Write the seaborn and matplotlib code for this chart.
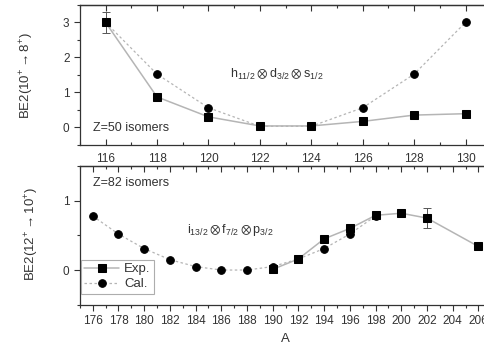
import matplotlib
matplotlib.use('Agg')
import matplotlib.pyplot as plt
import seaborn as sns
import pandas as pd
from matplotlib.ticker import MultipleLocator

# Z=50 isomers
a50_exp = [116, 118, 120, 122, 124, 126, 128, 130]
be2_50_exp = [3.0, 0.87, 0.30, 0.04, 0.04, 0.17, 0.35, 0.39]
a50_cal = [116, 118, 120, 122, 124, 126, 128, 130]
be2_50_cal = [3.0, 1.52, 0.56, 0.03, 0.03, 0.56, 1.52, 3.0]
err50_a = [116]
err50_y = [3.0]
err50_e = [0.3]

# Z=82 isomers
a82_exp = [190, 192, 194, 196, 198, 200, 202, 206]
be2_82_exp = [0.01, 0.16, 0.45, 0.60, 0.79, 0.82, 0.75, 0.34]
a82_cal = [176, 178, 180, 182, 184, 186, 188, 190, 192, 194, 196, 198]
be2_82_cal = [0.78, 0.52, 0.31, 0.15, 0.05, 0.0, 0.0, 0.05, 0.16, 0.31, 0.52, 0.78]
err82_a = [202]
err82_y = [0.75]
err82_e = [0.14]

sns.set_style('ticks')
plt.rcParams['font.family'] = ['Liberation Sans', 'DejaVu Sans']
plt.rcParams['mathtext.fontset'] = 'custom'
plt.rcParams['mathtext.rm'] = 'Liberation Sans'
plt.rcParams['mathtext.it'] = 'Liberation Sans'
plt.rcParams['axes.edgecolor'] = '#333333'
plt.rcParams['xtick.color'] = '#333333'
plt.rcParams['ytick.color'] = '#333333'

line_c = '#b5b5b5'
txt_c = '#333333'

fig = plt.figure(figsize=(4.84, 3.49), dpi=100)
ax1 = fig.add_axes([0.165, 0.585, 0.85, 0.401])
ax2 = fig.add_axes([0.165, 0.127, 0.85, 0.397])


def draw(ax, xe, ye, xc, yc, ea, ey, ee):
    df_e = pd.DataFrame({'A': xe, 'BE2': ye})
    df_c = pd.DataFrame({'A': xc, 'BE2': yc})
    sns.lineplot(data=df_c, x='A', y='BE2', ax=ax, color=line_c, linestyle=(0, (2, 2)), lw=0.9,
                 marker='o', markersize=5.5, markerfacecolor='black', markeredgecolor='black',
                 label='Cal.', zorder=2)
    sns.lineplot(data=df_e, x='A', y='BE2', ax=ax, color=line_c, linestyle='-', lw=1.1,
                 marker='s', markersize=5.5, markerfacecolor='black', markeredgecolor='black',
                 label='Exp.', zorder=3)
    ax.errorbar(ea, ey, yerr=ee, fmt='none', ecolor='#555555', elinewidth=0.7, capsize=3, capthick=0.7)


draw(ax1, a50_exp, be2_50_exp, a50_cal, be2_50_cal, err50_a, err50_y, err50_e)
draw(ax2, a82_exp, be2_82_exp, a82_cal, be2_82_cal, err82_a, err82_y, err82_e)

ax1.set_xlim(115, 131)
ax1.set_ylim(-0.5, 3.5)
ax2.set_xlim(175, 207)
ax2.set_ylim(-0.5, 1.5)

for ax in (ax1, ax2):
    ax.xaxis.set_major_locator(MultipleLocator(2))
    ax.xaxis.set_minor_locator(MultipleLocator(1))
    ax.yaxis.set_major_locator(MultipleLocator(1))
    ax.yaxis.set_minor_locator(MultipleLocator(0.5))
    ax.tick_params(axis='y', which='major', direction='out', length=4, width=0.8, labelsize=8.5, labelcolor=txt_c)
    ax.tick_params(axis='y', which='minor', direction='out', length=2.5, width=0.8)
    for s in ax.spines.values():
        s.set_linewidth(0.9)
    ax.set_xlabel('')
    ax.set_ylabel('')
    top = ax.secondary_xaxis('top')
    top.xaxis.set_major_locator(MultipleLocator(2))
    top.xaxis.set_minor_locator(MultipleLocator(1))
    top.tick_params(which='major', direction='in', length=4, width=0.8, labeltop=False)
    top.tick_params(which='minor', direction='in', length=2.5, width=0.8)
    top.spines['top'].set_linewidth(0.9)

ax1.tick_params(axis='x', which='major', direction='in', length=4, width=0.8, labelsize=8.5, labelcolor=txt_c, pad=6)
ax1.tick_params(axis='x', which='minor', direction='in', length=2.5, width=0.8)
ax2.tick_params(axis='x', which='major', direction='out', length=4, width=0.8, labelsize=8.5, labelcolor=txt_c)
ax2.tick_params(axis='x', which='minor', direction='out', length=2.5, width=0.8)

ax1.get_legend().remove()
handles, labels = ax2.get_legend_handles_labels()
order = [labels.index('Exp.'), labels.index('Cal.')]
leg = ax2.legend([handles[i] for i in order], [labels[i] for i in order], loc='lower left',
                 bbox_to_anchor=(0.0, 0.07), fontsize=9.5, frameon=True, fancybox=False,
                 edgecolor='#999999', handlelength=2.6, handletextpad=0.4, borderpad=0.25,
                 labelspacing=0.2, borderaxespad=0.1)
leg.get_frame().set_linewidth(0.8)
for t in leg.get_texts():
    t.set_color(txt_c)

ax1.text(115.5, -0.02, 'Z=50 isomers', fontsize=9, color=txt_c, va='center', ha='left')
ax2.text(176.0, 1.25, 'Z=82 isomers', fontsize=9, color=txt_c, va='center', ha='left')
ax1.text(0.365, 0.5, r'$\mathregular{h_{11/2}\otimes d_{3/2}\otimes s_{1/2}}$', transform=ax1.transAxes,
         fontsize=9, color=txt_c, va='center', ha='left')
ax2.text(0.26, 0.54, r'$\mathregular{i_{13/2}\otimes f_{7/2}\otimes p_{3/2}}$', transform=ax2.transAxes,
         fontsize=9, color=txt_c, va='center', ha='left')

fig.text(0.055, 0.783, r'BE2(10$^{+}$$\rightarrow$8$^{+}$)', rotation=90, fontsize=9.5, color=txt_c,
         ha='center', va='center')
fig.text(0.065, 0.33, r'BE2(12$^{+}$$\rightarrow$10$^{+}$)', rotation=90, fontsize=9.5, color=txt_c,
         ha='center', va='center')
fig.text(0.59, 0.028, 'A', fontsize=9.5, color=txt_c, ha='center', va='center')

fig.savefig('out.png', dpi=100)
